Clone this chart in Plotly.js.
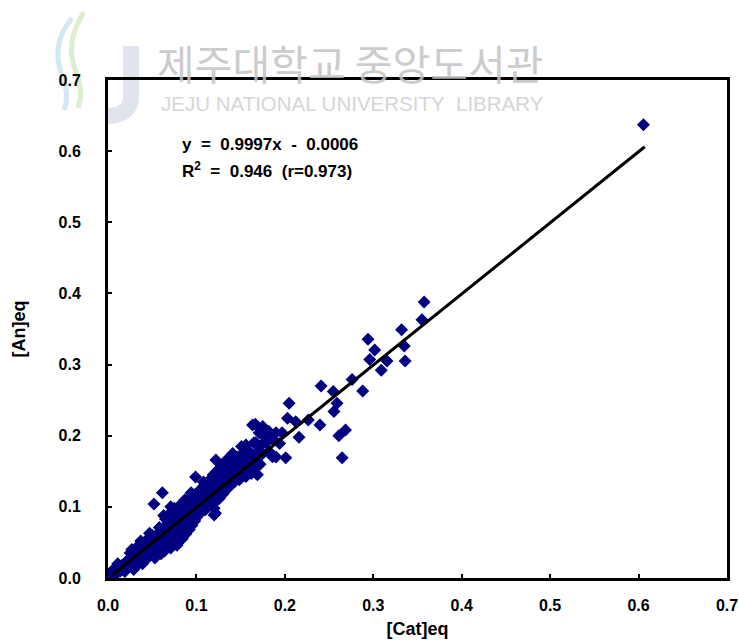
<!DOCTYPE html>
<html>
<head>
<meta charset="utf-8">
<script src="https://cdn.plot.ly/plotly-3.0.1.min.js"></script>
<style>html,body{margin:0;padding:0;background:#fff;}#chart{width:739px;height:644px;}</style>
</head>
<body>
<div id="chart"></div>
<script>
// [Cat]eq values (x)
const catEq = [
  0.6055, 0.3575, 0.355, 0.332, 0.335, 0.336, 0.294, 0.3016, 0.296, 0.3155, 0.309,
  0.276, 0.288, 0.241, 0.2547, 0.259, 0.2555, 0.2048, 0.203, 0.2123, 0.2265, 0.2397,
  0.2686, 0.261, 0.2648, 0.216, 0.201, 0.186, 0.1666, 0.171, 0.182, 0.19, 0.197,
  0.165, 0.179, 0.156, 0.182, 0.19, 0.141, 0.122, 0.134, 0.150, 0.160, 0.130, 0.145,
  0.169, 0.099, 0.107, 0.1185, 0.137, 0.0615, 0.052, 0.120, 0.1215,
  0.175, 0.177, 0.186, 0.194, 0.175, 0.1635, 0.1335, 0.1485, 0.156,
  0.004, 0.006, 0.008, 0.005, 0.010, 0.012, 0.009, 0.014, 0.016, 0.018, 0.011, 0.020, 0.019, 0.007, 0.003,
  0.022, 0.024, 0.026, 0.028, 0.030, 0.032, 0.033, 0.035, 0.036, 0.038, 0.040, 0.025, 0.029, 0.034, 0.039,
  0.041, 0.042, 0.044, 0.045, 0.046, 0.048, 0.050, 0.050, 0.052, 0.053, 0.055, 0.056, 0.057, 0.058, 0.059, 0.060, 0.047, 0.043,
  0.061, 0.062, 0.063, 0.064, 0.065, 0.066, 0.067, 0.068, 0.069, 0.070, 0.071, 0.072, 0.073, 0.074, 0.075, 0.076, 0.077, 0.078, 0.079, 0.080, 0.080,
  0.081, 0.082, 0.083, 0.084, 0.085, 0.086, 0.087, 0.088, 0.089, 0.090, 0.091, 0.092, 0.093, 0.094, 0.095, 0.096, 0.097, 0.098, 0.099, 0.100, 0.100, 0.084, 0.088, 0.092,
  0.101, 0.102, 0.103, 0.104, 0.105, 0.106, 0.107, 0.108, 0.109, 0.110, 0.111, 0.112, 0.113, 0.114, 0.115, 0.116, 0.117, 0.118, 0.119, 0.120, 0.120,
  0.121, 0.122, 0.123, 0.124, 0.125, 0.126, 0.127, 0.128, 0.129, 0.130, 0.131, 0.132, 0.133, 0.134, 0.135, 0.136, 0.137, 0.138, 0.139, 0.140,
  0.142, 0.143, 0.145, 0.146, 0.148, 0.150, 0.152, 0.153, 0.155, 0.157, 0.158, 0.160, 0.162, 0.163, 0.165, 0.167, 0.168, 0.170, 0.172, 0.174,
  0.027, 0.037, 0.063, 0.071, 0.094, 0.108, 0.126, 0.141, 0.151
];
// [An]eq values (y)
const anEq = [
  0.637, 0.388, 0.363, 0.349, 0.326, 0.305, 0.3355, 0.3205, 0.307, 0.305, 0.292,
  0.279, 0.263, 0.270, 0.262, 0.2455, 0.234, 0.2455, 0.2245, 0.2197, 0.222, 0.215,
  0.208, 0.200, 0.169, 0.198, 0.169, 0.1705, 0.216, 0.204, 0.206, 0.204, 0.204,
  0.190, 0.190, 0.187, 0.178, 0.170, 0.175, 0.166, 0.166, 0.163, 0.163, 0.152, 0.154,
  0.145, 0.142, 0.128, 0.133, 0.131, 0.120, 0.104, 0.0886, 0.091,
  0.213, 0.199, 0.195, 0.189, 0.175, 0.215, 0.124, 0.138, 0.1425,
  0.002, 0.005, 0.004, 0.010, 0.008, 0.012, 0.015, 0.010, 0.018, 0.014, 0.020, 0.022, 0.009, 0.013, 0.006,
  0.016, 0.027, 0.020, 0.033, 0.024, 0.038, 0.018, 0.030, 0.042, 0.026, 0.034, 0.035, 0.012, 0.045, 0.020,
  0.048, 0.025, 0.039, 0.055, 0.030, 0.044, 0.060, 0.036, 0.050, 0.028, 0.045, 0.062, 0.038, 0.071, 0.052, 0.034, 0.063, 0.050,
  0.045, 0.070, 0.055, 0.038, 0.083, 0.062, 0.048, 0.075, 0.090, 0.058, 0.042, 0.068, 0.082, 0.052, 0.098, 0.063, 0.076, 0.046, 0.088, 0.058, 0.070,
  0.102, 0.065, 0.080, 0.055, 0.092, 0.072, 0.110, 0.062, 0.085, 0.075, 0.098, 0.068, 0.112, 0.082, 0.074, 0.104, 0.090, 0.080, 0.118, 0.095, 0.085, 0.068, 0.096, 0.088,
  0.108, 0.090, 0.122, 0.098, 0.112, 0.093, 0.118, 0.102, 0.128, 0.096, 0.110, 0.132, 0.100, 0.120, 0.138, 0.105, 0.126, 0.112, 0.145, 0.118, 0.098,
  0.132, 0.108, 0.150, 0.122, 0.140, 0.112, 0.155, 0.128, 0.145, 0.118, 0.160, 0.135, 0.150, 0.126, 0.165, 0.140, 0.128, 0.155, 0.168, 0.145,
  0.160, 0.135, 0.150, 0.170, 0.140, 0.158, 0.175, 0.145, 0.165, 0.150, 0.180, 0.160, 0.147, 0.172, 0.155, 0.190, 0.165, 0.178, 0.160, 0.188,
  0.040, 0.052, 0.088, 0.100, 0.120, 0.135, 0.148, 0.170, 0.185
];
// Regression line (from the printed equation)
const fitSlope = 0.9997;
const fitIntercept = -0.0006;
const fitX = [0.005, 0.607];
const fitY = fitX.map(v => fitSlope * v + fitIntercept);

const eqLine1 = 'y  =  0.9997x  -  0.0006';
const eqLine2 = 'R<sup>2</sup>  =  0.946  (r=0.973)';
const xTitle = '[Cat]eq';
const yTitle = '[An]eq';
const tickVals = [0, 0.1, 0.2, 0.3, 0.4, 0.5, 0.6, 0.7];
const tickText = ['0.0', '0.1', '0.2', '0.3', '0.4', '0.5', '0.6', '0.7'];
const wmKorean = '제주대학교 중앙도서관';
const wmEnglish = 'JEJU NATIONAL UNIVERSITY&nbsp;&nbsp;LIBRARY';

const FAM = 'Liberation Sans, Arial, sans-serif';
const boldFont = {family: FAM, size: 16, color: '#000', weight: 'bold'};

// plot area in pixels (for placing the watermark decoration)
const PL = 108, PR = 727, PT = 80, PB = 578;
const px = v => (v - PL) / (PR - PL);
const py = v => (PB - v) / (PB - PT);
function pathPx(cmds) {
  return cmds.map(c => typeof c === 'string' ? c : (px(c[0]).toFixed(4) + ',' + py(c[1]).toFixed(4))).join(' ');
}

const traces = [
  {
    x: catEq, y: anEq, type: 'scatter', mode: 'markers',
    marker: {symbol: 'diamond', size: 10, color: '#000080', line: {width: 0}},
    hoverinfo: 'skip', showlegend: false
  },
  {
    x: fitX, y: fitY, type: 'scatter', mode: 'lines',
    line: {color: '#000', width: 3}, hoverinfo: 'skip', showlegend: false
  }
];

const axisCommon = {
  range: [0, 0.7], tickvals: tickVals, ticktext: tickText,
  ticks: 'inside', ticklen: 4, tickwidth: 2, tickcolor: '#000',
  showline: true, linecolor: '#000', linewidth: 3, mirror: true,
  showgrid: false, zeroline: false, tickfont: boldFont,
  ticklabeloverflow: 'allow'
};

const layout = {
  width: 739, height: 644,
  margin: {l: PL, r: 739 - PR, t: PT, b: 644 - PB},
  paper_bgcolor: '#fff', plot_bgcolor: '#fff',
  xaxis: Object.assign({}, axisCommon, {
    ticklabelstandoff: 11,
    title: {text: xTitle, font: {family: FAM, size: 18, color: '#000', weight: 'bold'}, standoff: 10}
  }),
  yaxis: Object.assign({}, axisCommon, {
    ticklabelstandoff: 21,
    title: {text: yTitle, font: {family: FAM, size: 18, color: '#000', weight: 'bold'}, standoff: 29}
  }),
  shapes: [
    {type: 'path', xref: 'paper', yref: 'paper', layer: 'below',
     path: pathPx(['M', [72, 18], 'Q', [50, 45], [62, 75], 'Q', [70, 95], [64, 110]]),
     line: {color: '#a9d3ea', width: 5}, opacity: 0.5},
    {type: 'path', xref: 'paper', yref: 'paper', layer: 'below',
     path: pathPx(['M', [84, 12], 'Q', [64, 42], [76, 72], 'Q', [84, 92], [78, 108]]),
     line: {color: '#bcdca0', width: 5}, opacity: 0.5},
    {type: 'path', xref: 'paper', yref: 'paper', layer: 'below',
     path: pathPx(['M', [131, 46], 'L', [131, 96], 'Q', [131, 116], [106, 116]]),
     line: {color: '#c3cbdb', width: 16}, opacity: 0.5}
  ],
  annotations: [
    {xref: 'x', yref: 'y', x: 0.081, y: 0.609, xanchor: 'left', yanchor: 'middle', showarrow: false,
     text: eqLine1, font: {family: FAM, size: 17, color: '#000', weight: 'bold'}},
    {xref: 'x', yref: 'y', x: 0.081, y: 0.5735, xanchor: 'left', yanchor: 'middle', showarrow: false,
     text: eqLine2, font: {family: FAM, size: 17, color: '#000', weight: 'bold'}},
    {xref: 'paper', yref: 'paper', x: px(350), y: py(62), xanchor: 'center', yanchor: 'middle', showarrow: false,
     text: wmKorean, opacity: 0.85,
     font: {family: 'Noto Sans CJK KR, sans-serif', size: 41, color: '#c4c4c4'}},
    {xref: 'paper', yref: 'paper', x: px(352), y: py(103), xanchor: 'center', yanchor: 'middle', showarrow: false,
     text: wmEnglish, opacity: 0.85,
     font: {family: FAM, size: 20.5, color: '#cfcfcf'}}
  ]
};

Plotly.newPlot('chart', traces, layout, {staticPlot: true, displayModeBar: false});
</script>
</body>
</html>
